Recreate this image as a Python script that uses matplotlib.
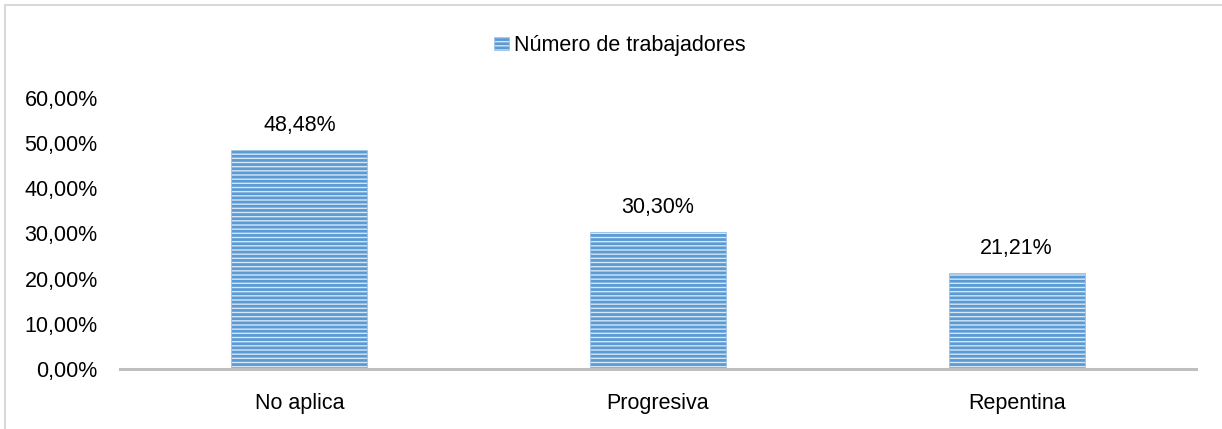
import matplotlib.pyplot as plt
from matplotlib.patches import Rectangle

categorias = ["No aplica", "Progresiva", "Repentina"]
porcentajes = [48.48, 30.30, 21.21]
etiquetas = ["48,48%", "30,30%", "21,21%"]
ticks_y = [0, 10, 20, 30, 40, 50, 60]
ticks_y_txt = ["0,00%", "10,00%", "20,00%", "30,00%", "40,00%", "50,00%", "60,00%"]
serie = "Número de trabajadores"

plt.rcParams["font.family"] = ["Liberation Sans", "DejaVu Sans"]
plt.rcParams["hatch.linewidth"] = 2.0
plt.rcParams["hatch.color"] = "#5b9bd5"

W, H = 1222, 429
fig = plt.figure(figsize=(W / 100, H / 100), dpi=100)
ax = fig.add_axes([120 / W, 1 - 369 / H, (1196 - 120) / W, (369 - 98) / H])

x = range(len(categorias))
barras = ax.bar(x, porcentajes, width=0.38, color="#d6e6f5", edgecolor="#9dc3e6",
                linewidth=0.6, hatch="----", label=serie)
for b in barras:
    b._hatch_color = (0.357, 0.608, 0.835, 1.0)

for xi, v, t in zip(x, porcentajes, etiquetas):
    ax.annotate(t, (xi, v), xytext=(0, 10), textcoords="offset points",
                ha="center", va="bottom", fontsize=15.5, color="black")

ax.set_xlim(-0.5, 2.5)
ax.set_ylim(0, 60)
ax.set_xticks(list(x))
ax.set_xticklabels(categorias, fontsize=15.5, color="black")
ax.set_yticks(ticks_y)
ax.set_yticklabels(ticks_y_txt, fontsize=15.5, color="black")
ax.tick_params(axis="both", length=0)
ax.tick_params(axis="y", pad=16)
ax.tick_params(axis="x", pad=17)

for s in ["top", "right", "left"]:
    ax.spines[s].set_visible(False)
ax.spines["bottom"].set_color("#bfbfbf")
ax.spines["bottom"].set_linewidth(2.2)

fig.legend(handles=[barras[0]], labels=[serie], loc="center",
           bbox_to_anchor=(620 / W, 1 - 46 / H), frameon=False, fontsize=15.5,
           handlelength=0.7, handleheight=0.55, handletextpad=0.25)

# marco gris (solo borde superior e izquierdo visibles)
fig.add_artist(Rectangle((5 / W, -0.2), 1.2, 1 - 5 / H + 0.2, transform=fig.transFigure,
                         fill=False, edgecolor="#d9d9d9", linewidth=1.5))

fig.savefig("out.png", dpi=100)
